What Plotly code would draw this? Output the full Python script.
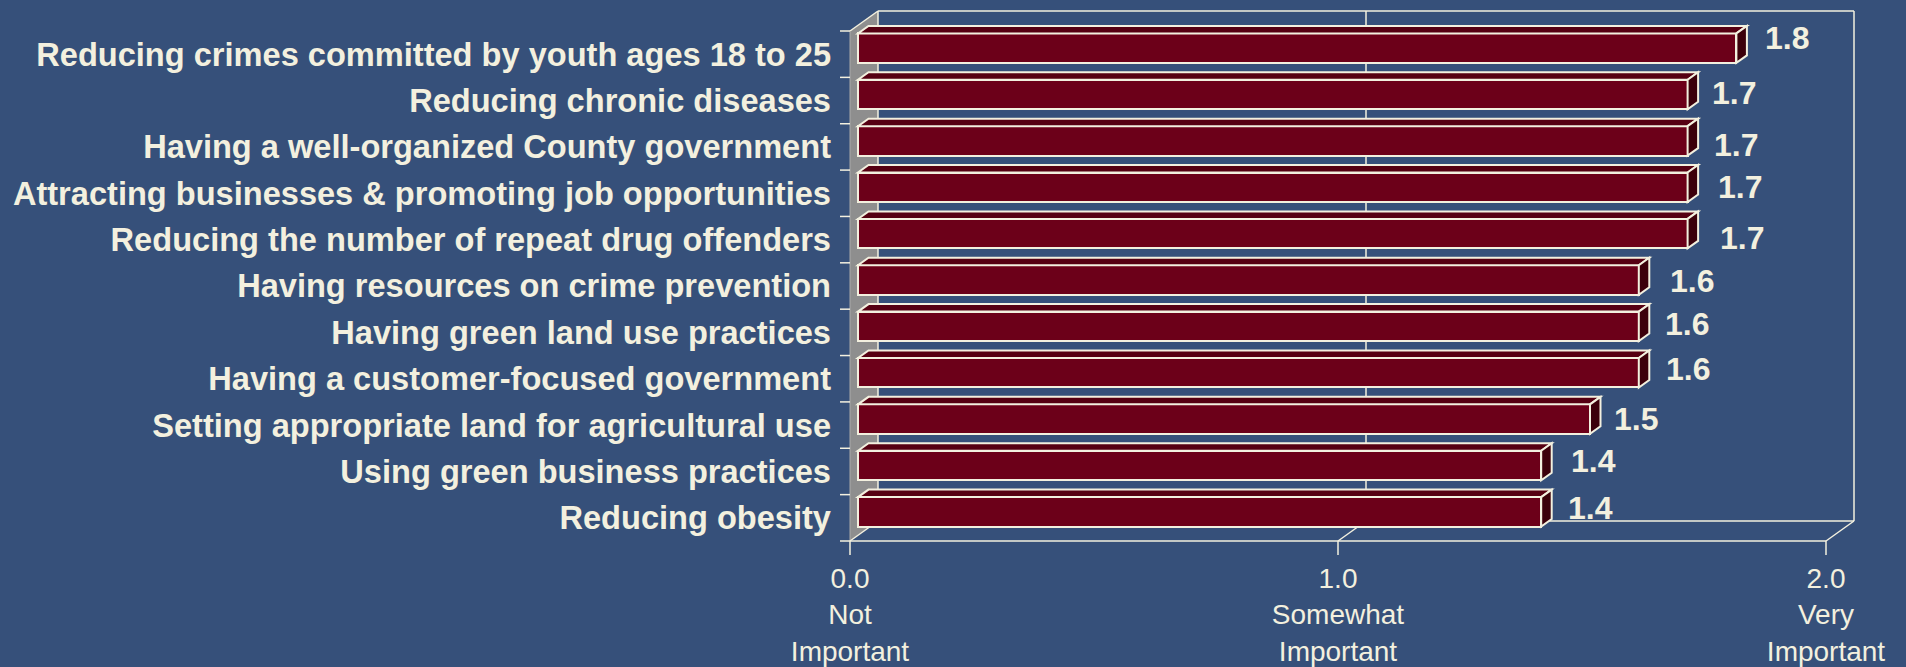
import plotly.graph_objects as go

# ---- data -----------------------------------------------------------------
categories = [
    "Reducing crimes committed by youth ages 18 to 25",
    "Reducing chronic diseases",
    "Having a well-organized County government",
    "Attracting businesses & promoting job opportunities",
    "Reducing the number of repeat drug offenders",
    "Having resources on crime prevention",
    "Having green land use practices",
    "Having a customer-focused government",
    "Setting appropriate land for agricultural use",
    "Using green business practices",
    "Reducing obesity",
]
scores = [1.8, 1.7, 1.7, 1.7, 1.7, 1.6, 1.6, 1.6, 1.5, 1.4, 1.4]
scale_values = [0, 1, 2]
scale_labels = [
    "0.0<br>Not<br>Important",
    "1.0<br>Somewhat<br>Important",
    "2.0<br>Very<br>Important",
]

# value-label placement tweaks (pixels): gap right of the bar, rise above centre
label_gap_px = [32, 27, 29, 33, 35, 34, 29, 30, 27, 33, 30]
label_rise_px = [10, 1.5, -4, 0, -4, -0.5, 2.5, 4, 0, 4, 3.5]

# ---- styling / geometry ---------------------------------------------------
W, H = 1906, 667
BG = "#36507A"
CREAM = "#F3F0DF"
FRONT = "#6C0019"
TOP = "#560012"
SIDE = "#3C000B"
WALL = "#8E8E8E"
FONT = "Liberation Sans, Arial, sans-serif"

X0_PX = 850            # pixel of score 0 on the front plane
UNIT_PX = 488          # pixels per score unit
TOP_PX = 31            # top of the first row on the front plane
n = len(categories)
ROW_PX = 510 / n       # row pitch
BOX_DX, BOX_DY = 28, 20          # depth of the 3-D box
BAR_INSET_DX, BAR_INSET_DY = 8, 6  # bar front face set back into the box
BAR_DX, BAR_DY = 10.5, 7.5       # bar depth
BAR_H_PX = 29.5
PAD = 4

# convert pixel measures to axis units
Dx, Dy = BOX_DX / UNIT_PX, BOX_DY / ROW_PX
bar_x0 = BAR_INSET_DX / UNIT_PX
lift = BAR_INSET_DY / ROW_PX
bar_w = BAR_H_PX / ROW_PX
ddx, ddy = BAR_DX / UNIT_PX, BAR_DY / ROW_PX
y_top, y_bot = -0.5, n - 0.5
x_max = max(scale_values)

x_range = [-PAD / UNIT_PX, x_max + Dx + PAD / UNIT_PX]
y_range = [y_bot + PAD / ROW_PX, y_top - Dy - PAD / ROW_PX]
x_dom = [(X0_PX - PAD) / W, (X0_PX + x_max * UNIT_PX + BOX_DX + PAD) / W]
bottom_px = TOP_PX + n * ROW_PX
y_dom = [(H - bottom_px - PAD) / H, (H - (TOP_PX - BOX_DY - PAD)) / H]

fig = go.Figure()

# front faces of the bars
fig.add_trace(go.Bar(
    x=scores,
    y=list(range(n)),
    base=bar_x0,
    orientation="h",
    width=bar_w,
    offset=-bar_w / 2 - lift,
    marker=dict(color=FRONT, line=dict(color=CREAM, width=2)),
    hoverinfo="skip",
    showlegend=False,
))

shapes = []


def seg(x0, y0, x1, y1, width=1.5, color=CREAM, layer="below"):
    shapes.append(dict(type="line", xref="x", yref="y", x0=x0, y0=y0,
                       x1=x1, y1=y1, layer=layer,
                       line=dict(color=color, width=width)))


# left side wall
shapes.append(dict(
    type="path", xref="x", yref="y", layer="below",
    path=(f"M 0,{y_top} L {Dx},{y_top - Dy} L {Dx},{y_bot - Dy} "
          f"L 0,{y_bot} Z"),
    fillcolor=WALL, line=dict(width=0),
))
seg(Dx, y_top - Dy, Dx, y_bot - Dy)
seg(0, y_top, Dx, y_top - Dy)
seg(0, y_top, 0, y_bot, width=1, color="#A9A9A9")

# back wall and floor edges
seg(Dx, y_top - Dy, x_max + Dx, y_top - Dy)
seg(x_max + Dx, y_top - Dy, x_max + Dx, y_bot - Dy)
seg(Dx, y_bot - Dy, x_max + Dx, y_bot - Dy)
seg(0, y_bot, x_max, y_bot)
seg(x_max, y_bot, x_max + Dx, y_bot - Dy)
seg(0, y_bot, Dx, y_bot - Dy)

# interior gridlines (floor + back wall)
for v in scale_values[1:-1]:
    seg(v, y_bot, v + Dx, y_bot - Dy)
    seg(v + Dx, y_bot - Dy, v + Dx, y_top - Dy)

# top and end faces of each bar
for i, v in enumerate(scores):
    xl, xr = bar_x0, bar_x0 + v
    yt = i - bar_w / 2 - lift
    yb = yt + bar_w
    shapes.append(dict(
        type="path", xref="x", yref="y", layer="above",
        path=(f"M {xl},{yt} L {xr},{yt} L {xr + ddx},{yt - ddy} "
              f"L {xl + ddx},{yt - ddy} Z"),
        fillcolor=TOP, line=dict(color=CREAM, width=2),
    ))
    shapes.append(dict(
        type="path", xref="x", yref="y", layer="above",
        path=(f"M {xr},{yt} L {xr + ddx},{yt - ddy} L {xr + ddx},{yb - ddy} "
              f"L {xr},{yb} Z"),
        fillcolor=SIDE, line=dict(color=CREAM, width=2),
    ))

# tick marks on the front plane
for b in range(n + 1):
    shapes.append(dict(type="line", xref="paper", yref="y",
                       x0=(X0_PX - 10) / W, x1=X0_PX / W,
                       y0=b - 0.5, y1=b - 0.5,
                       line=dict(color=CREAM, width=1.5)))
for v in scale_values:
    shapes.append(dict(type="line", xref="x", yref="paper",
                       x0=v, x1=v,
                       y0=(H - bottom_px) / H, y1=(H - bottom_px - 14) / H,
                       line=dict(color=CREAM, width=1.5)))

# value labels
annotations = []
for i, v in enumerate(scores):
    annotations.append(dict(
        x=bar_x0 + v, y=i, xref="x", yref="y",
        text=f"{v:.1f}", showarrow=False,
        xanchor="left", yanchor="middle",
        xshift=label_gap_px[i] - 5,
        yshift=BAR_INSET_DY + label_rise_px[i],
        font=dict(family=FONT, size=32, color=CREAM, weight="bold"),
    ))

fig.update_layout(
    width=W, height=H,
    margin=dict(l=0, r=0, t=0, b=0, autoexpand=False),
    paper_bgcolor=BG, plot_bgcolor="rgba(0,0,0,0)",
    shapes=shapes, annotations=annotations,
    bargap=0,
    xaxis=dict(
        domain=x_dom, range=x_range, fixedrange=True, automargin=False,
        tickvals=scale_values, ticktext=scale_labels,
        ticks="", showgrid=False, zeroline=False, showline=False,
        tickfont=dict(family=FONT, size=28, color=CREAM),
        ticklabelstandoff=14,
    ),
    yaxis=dict(
        domain=y_dom, range=y_range, fixedrange=True, automargin=False,
        tickvals=list(range(n)), ticktext=categories,
        ticks="", showgrid=False, zeroline=False, showline=False,
        tickfont=dict(family=FONT, size=32.6, color=CREAM, weight="bold"),
        ticklabelstandoff=14,
    ),
)

fig.write_html("out.html")
